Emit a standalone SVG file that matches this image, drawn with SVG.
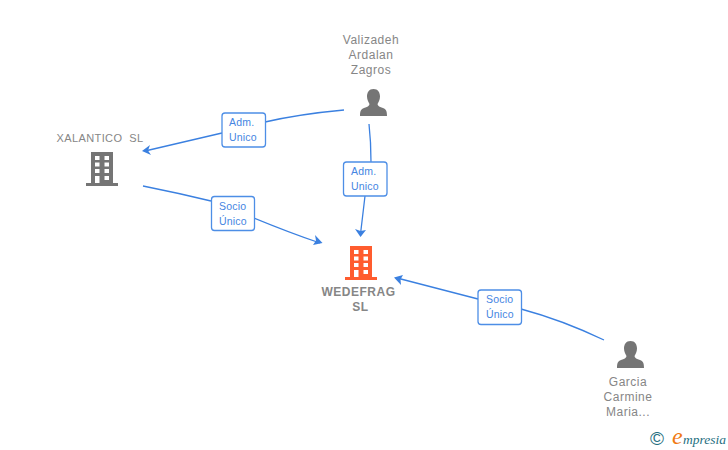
<svg xmlns="http://www.w3.org/2000/svg" width="728" height="450" viewBox="0 0 728 450">
<style>
text{font-family:"Liberation Sans",Arial,sans-serif}
.n{font-size:12px;fill:#868686;text-anchor:middle;letter-spacing:.5px}
.b{font-weight:bold}
.l{font-size:10.500px;fill:#4585e2;letter-spacing:.2px}
.box{fill:#fff;stroke:#4d8ee6;stroke-width:1.300}
.e{fill:none;stroke:#3b80e0;stroke-width:1.300}
.a{fill:#3b80e0}
.g{fill:#757575}
.o{fill:#ff5c2e}
</style>
<defs>
<path id="bld" fill-rule="evenodd" d="M5 0H27V31H32V34H0V31H5ZM9 4V8H13.500V4ZM18.500 4V8H23V4ZM9 10.500V14.500H13.500V10.500ZM18.500 10.500V14.500H23V10.500ZM9 17V21H13.500V17ZM18.500 17V21H23V17ZM9 24V31H13.500V24ZM18.500 24V28H23V24Z"/>
<path id="per" d="M13.500 0C18 0 20 3.500 20 7.500C20 11 18.500 13 17.500 15C17.500 17 20 18 23 19C26 20 27 22 27 27H0C0 22 1 20 4 19C7 18 9.500 17 9.500 15C8.500 13 7 11 7 7.500C7 3.500 9 0 13.500 0Z"/>
</defs>
<g id="connectors">
<path class="e" d="M344 110Q300 114 265 122M222 133L145 151"/>
<path class="a" d="M142 151L150 145L148 150.500L151 155Z"/>
<path class="e" d="M369 124Q371 142 371 162M365 196L360.500 234"/>
<path class="a" d="M360.500 237L355 229L360.500 231L366 230Z"/>
<path class="e" d="M143 186Q178 193 211 201M254 218Q288 232 320 243"/>
<path class="a" d="M322.500 243L313 245L316 240.500L315 235Z"/>
<path class="e" d="M604 340Q562 320 521 309M478 299L397 278"/>
<path class="a" d="M394 277.500L403 275L400.500 279.500L401 285Z"/>
</g>
<g id="edge-label-1"><rect class="box" x="222" y="113" width="43.500" height="34" rx="3"/><text class="l" x="229" y="126">Adm.</text><text class="l" x="229" y="141">Unico</text></g>
<g id="edge-label-2"><rect class="box" x="343.500" y="162" width="43.500" height="34" rx="3"/><text class="l" x="351" y="175">Adm.</text><text class="l" x="351" y="190">Unico</text></g>
<g id="edge-label-3"><rect class="box" x="211.500" y="196.500" width="43" height="34" rx="3"/><text class="l" x="219" y="210">Socio</text><text class="l" x="219" y="225">Único</text></g>
<g id="edge-label-4"><rect class="box" x="478" y="290" width="43.500" height="34.500" rx="3"/><text class="l" x="486" y="303">Socio</text><text class="l" x="486" y="318">Único</text></g>
<g id="node-valizadeh"><text class="n" x="371" y="44">Valizadeh</text><text class="n" x="371" y="59">Ardalan</text><text class="n" x="371" y="74">Zagros</text><use href="#per" class="g" x="360" y="89"/></g>
<g id="node-xalantico"><text class="n" x="100" y="142" style="font-size:11px;letter-spacing:.4px;white-space:pre">XALANTICO  SL</text><use href="#bld" class="g" x="86" y="152"/></g>
<g id="node-wedefrag"><use href="#bld" class="o" x="345" y="246"/><text class="n b" x="358.500" y="296">WEDEFRAG</text><text class="n b" x="360.500" y="311">SL</text></g>
<g id="node-garcia"><use href="#per" class="g" x="617" y="341"/><text class="n" x="628" y="386">Garcia</text><text class="n" x="628" y="401">Carmine</text><text class="n" x="628" y="416">Maria...</text></g>
<g id="logo"><text x="650" y="445" style="font-size:19px;fill:#1f6f7f">©</text><text x="672" y="444" style="font-family:'Liberation Serif',serif;font-size:24px;font-style:italic;fill:#f07a12">e</text><text x="683" y="444" style="font-family:'Liberation Serif',serif;font-size:13.500px;font-style:italic;fill:#1f6f7f">mpresia</text></g>
</svg>
